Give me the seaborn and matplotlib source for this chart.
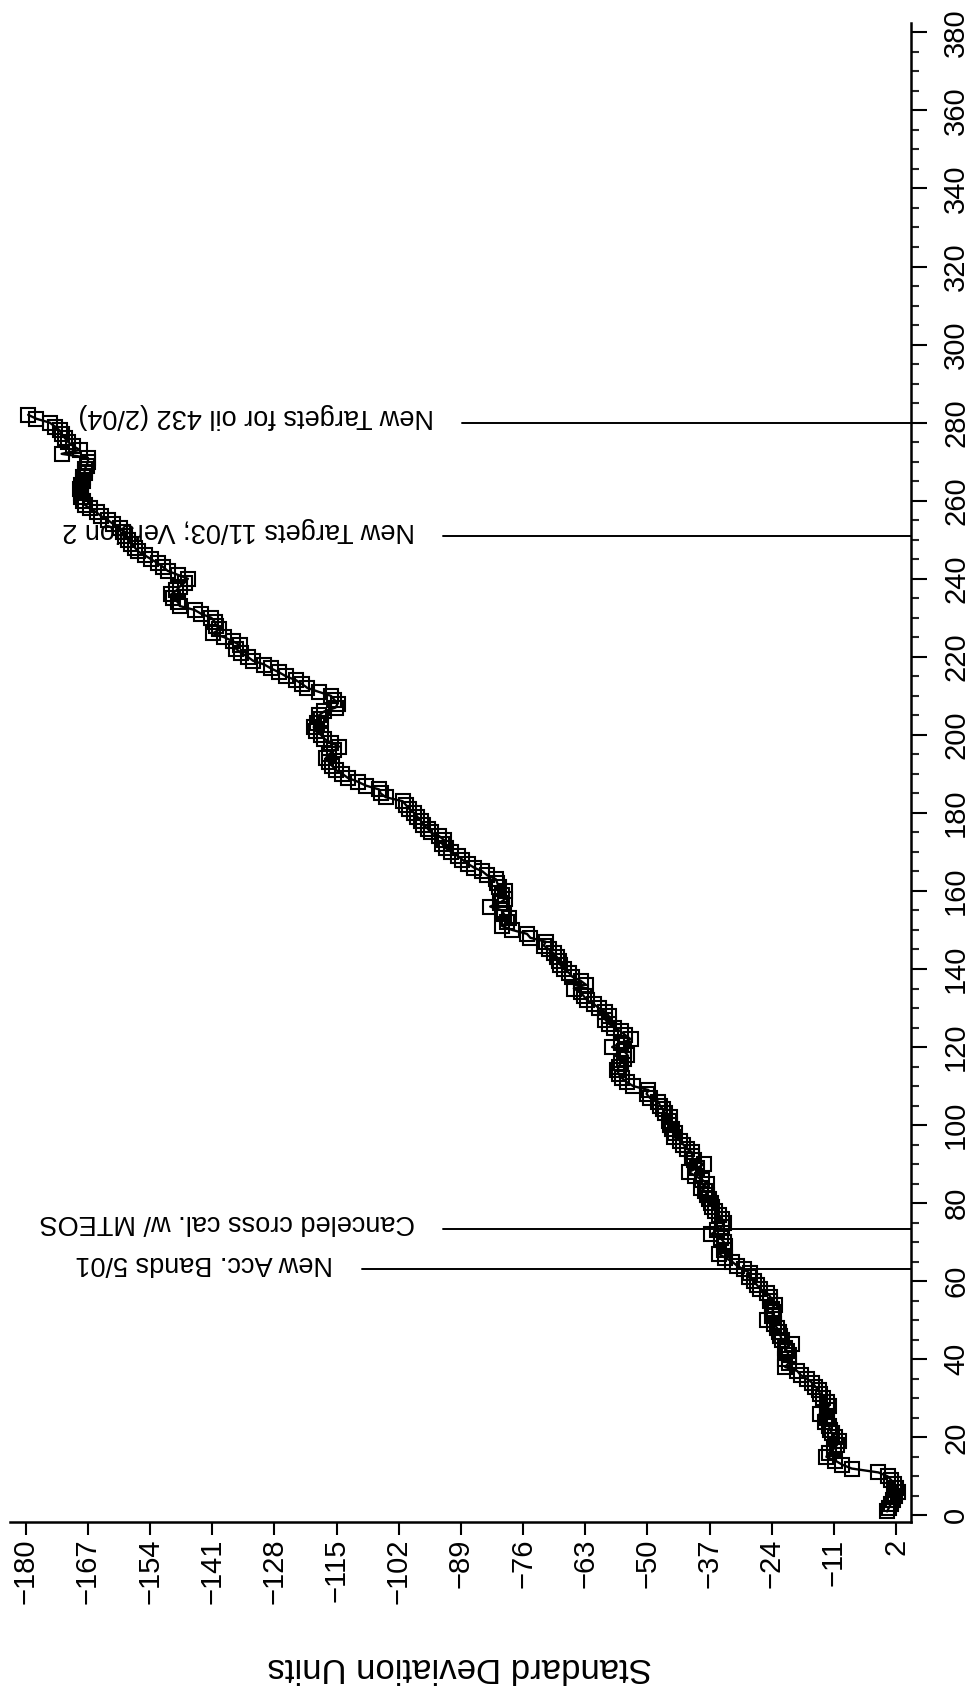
import numpy as np
import pandas as pd
import matplotlib
matplotlib.use("Agg")
import matplotlib.pyplot as plt
from matplotlib import font_manager
from matplotlib.ticker import MultipleLocator, FixedLocator
import seaborn as sns

# Cumulative standard deviation units, one value per sample (1..282)
sd_units = [
    0.1, 0.5, 0.9, 1.3, 1.7, 2.3, 2.0, 1.5, 1.0, 0.2,
    -1.7, -7.3, -9.3, -10.7, -12.6, -12.1, -11.1, -10.4, -10.0, -10.7,
    -11.4, -11.8, -12.1, -12.8, -12.5, -14.0, -12.5, -12.1, -12.5, -13.2,
    -13.9, -14.2, -14.9, -15.6, -16.7, -18.0, -18.7, -21.2, -20.5, -21.2,
    -20.5, -20.8, -21.2, -19.8, -21.9, -22.2, -22.6, -22.9, -23.6, -25.0,
    -24.0, -23.6, -24.0, -23.3, -24.3, -24.3, -25.0, -26.4, -27.1, -27.8,
    -28.8, -28.5, -29.9, -31.3, -32.3, -33.7, -35.1, -34.0, -33.7, -34.0,
    -34.7, -36.8, -35.4, -34.4, -34.0, -34.4, -35.1, -35.8, -36.5, -36.8,
    -37.2, -37.5, -37.9, -38.9, -37.5, -38.6, -40.0, -41.4, -39.6, -38.2,
    -40.3, -40.7, -40.7, -41.8, -42.5, -43.2, -44.5, -44.2, -44.9, -45.3,
    -45.6, -45.3, -46.3, -46.7, -47.4, -47.7, -49.5, -50.2, -49.8, -53.0,
    -54.3, -55.3, -56.0, -56.3, -56.0, -55.6, -54.9, -54.2, -54.9, -57.4,
    -55.6, -53.5, -54.6, -55.6, -57.0, -58.1, -58.8, -58.1, -58.8, -60.2,
    -61.2, -62.6, -63.3, -64.0, -65.4, -62.9, -64.0, -65.7, -66.4, -67.5,
    -68.2, -68.5, -68.9, -69.6, -70.6, -71.7, -71.3, -74.5, -75.2, -78.3,
    -80.4, -79.4, -79.0, -80.0, -80.4, -82.9, -80.8, -79.7, -80.4, -79.7,
    -81.1, -81.4, -81.7, -83.5, -84.5, -86.3, -87.6, -88.7, -89.7, -91.1,
    -92.2, -92.9, -92.5, -93.5, -95.3, -96.0, -97.0, -97.4, -98.1, -98.8,
    -99.8, -100.5, -101.2, -104.7, -105.8, -106.1, -108.9, -110.6, -112.7, -113.8,
    -115.2, -115.9, -116.6, -117.3, -116.6, -115.5, -114.5, -116.2, -117.6, -118.3,
    -119.4, -119.8, -119.1, -118.3, -118.7, -117.6, -115.2, -114.8, -115.5, -116.2,
    -118.7, -121.1, -122.2, -123.5, -125.6, -127.0, -128.7, -130.1, -132.5, -133.6,
    -135.0, -136.0, -135.3, -136.7, -138.5, -140.9, -139.5, -140.2, -140.5, -141.2,
    -143.3, -144.7, -147.8, -148.2, -149.2, -149.6, -148.5, -147.8, -146.8, -146.1,
    -148.2, -150.3, -151.3, -152.4, -153.8, -155.1, -156.5, -157.2, -157.9, -158.6,
    -159.3, -159.6, -160.3, -161.7, -162.8, -164.2, -165.2, -166.6, -167.7, -168.0,
    -168.4, -168.4, -168.7, -168.4, -168.0, -168.0, -167.7, -167.7, -167.3, -167.0,
    -167.0, -172.5, -168.7, -170.1, -171.1, -171.8, -172.5, -172.9, -173.9, -175.0,
    -177.8, -179.5,
]
samples = list(range(1, len(sd_units) + 1))

# Event markers along the sample axis
event_samples = [63, 73.5, 251, 280]
event_labels = [
    "New Acc. Bands 5/01",
    "Canceled cross cal. w/ MTEOS",
    "New Targets 11/03; Version 2",
    "New Targets for oil 432 (2/04)",
]

value_ticks = list(range(-180, 3, 13))
sample_ticks = list(range(0, 381, 20))

sns.set_style("ticks")
available = {f.name for f in font_manager.fontManager.ttflist}
base_font = "Liberation Sans" if "Liberation Sans" in available else "DejaVu Sans"
plt.rcParams["font.family"] = [base_font, "DejaVu Sans"]

df = pd.DataFrame({"sample": samples, "sd": sd_units})

fig = plt.figure(figsize=(9.69, 16.92), dpi=100)
ax = fig.add_axes([10 / 969, 1 - 1522 / 1692, 901 / 969, (1522 - 23) / 1692])

sns.lineplot(
    data=df, x="sd", y="sample", sort=False, estimator=None, ax=ax,
    color="black", linewidth=1.7, marker="s", markersize=9.5,
    markerfacecolor="none", markeredgecolor="black", markeredgewidth=1.5,
)

ax.set_xlim(-183.3, 5.1)
ax.set_ylim(-1.7, 382.4)

# event lines running in from the sample axis, labels beyond their ends
line_ends = [-109.7, -92.7, -92.7, -88.7]
gap = 6.0
for s, lab, xe in zip(event_samples, event_labels, line_ends):
    ax.plot([xe, 5.1], [s, s], color="black", linewidth=1.4, clip_on=False)
    ax.text(xe - gap, s + 1.6, lab, rotation=180, rotation_mode="anchor",
            ha="left", va="center", fontsize=19.5, color="black")

# axes: value axis at the bottom, sample axis on the right
sns.despine(ax=ax, top=True, left=True, right=False, bottom=False)
for side in ("bottom", "right"):
    ax.spines[side].set_linewidth(1.8)
    ax.spines[side].set_color("black")

ax.xaxis.set_major_locator(FixedLocator(value_ticks))
ax.yaxis.set_major_locator(FixedLocator(sample_ticks))
ax.yaxis.set_minor_locator(MultipleLocator(5))
ax.yaxis.tick_right()

ax.tick_params(axis="x", which="major", direction="out", length=9, width=1.5,
               pad=3, labelsize=21, labelrotation=90, colors="black")
ax.tick_params(axis="y", which="major", direction="out", length=11.5, width=1.5,
               pad=11, labelsize=21, labelrotation=90, colors="black")
ax.tick_params(axis="y", which="minor", direction="out", length=5.8, width=1.5)
for lbl in ax.get_yticklabels():
    lbl.set_va("center")

ax.set_xlabel("")
ax.set_ylabel("")
fig.text(460 / 969, 1 - 1667 / 1692, "Standard Deviation Units", rotation=180,
         ha="center", va="center", fontsize=25, color="black")

fig.savefig("out.png", dpi=100)
